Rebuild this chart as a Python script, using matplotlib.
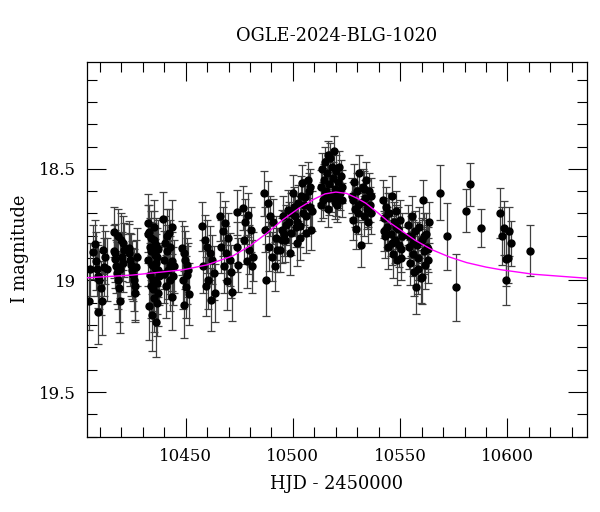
import matplotlib
matplotlib.use("Agg")
import matplotlib.pyplot as plt
import numpy as np
from matplotlib.ticker import MultipleLocator, FuncFormatter

# OGLE photometry, HJD - 2450000, I mag, error (one line per night group)
hjd = [
    10404.8, 10405.6,
    10406.8, 10407.5, 10408.0, 10408.6, 10409.2, 10409.7, 10410.3, 10410.8, 10409.0, 10411.5, 10412.0, 10412.6, 10413.2,
    10416.4, 10416.8, 10417.2, 10417.7, 10418.1, 10418.6, 10419.0, 10419.4, 10419.9, 10420.3, 10420.7, 10421.0, 10421.4, 10417.0,
    10423.4, 10423.8, 10424.2, 10424.6, 10425.0, 10425.4, 10425.8, 10426.2, 10426.6, 10427.0, 10427.3,
    10432.3, 10432.5, 10432.8, 10433.0, 10433.3, 10433.5, 10433.7, 10434.0, 10434.2, 10434.4, 10434.7, 10434.9,
    10435.1, 10435.4, 10435.6, 10435.8, 10436.1, 10436.3, 10436.5, 10436.8, 10437.0, 10437.2, 10437.4,
    10439.4, 10439.8, 10440.3, 10440.7, 10441.1, 10441.6, 10442.0, 10442.5, 10442.9, 10443.4, 10443.8, 10444.3, 10444.7,
    10448.3, 10448.6, 10449.0, 10449.3, 10449.7, 10450.0, 10450.4, 10450.7, 10451.1, 10451.4,
    10457.6, 10458.2, 10458.8, 10459.4, 10460.0, 10460.6, 10461.2, 10461.9, 10462.5, 10463.2, 10463.9,
    10466.0, 10466.6, 10467.2, 10467.7, 10468.3, 10468.8, 10469.4, 10469.9, 10470.5, 10471.0, 10471.5,
    10473.9, 10474.1, 10474.3,
    10476.5, 10477.1, 10477.8, 10478.4, 10479.0, 10479.7, 10480.3, 10481.0, 10481.6,
    10486.3, 10486.9, 10487.6, 10488.2, 10488.9, 10489.5, 10490.2, 10490.8, 10491.5, 10492.1, 10492.8,
    10494.0, 10494.8, 10495.5, 10496.0, 10496.3, 10497.0, 10497.8, 10498.6, 10499.0, 10499.3, 10500.1, 10500.9, 10501.7,
    10502.0, 10502.4, 10503.2, 10503.5, 10504.0, 10504.7, 10505.0, 10505.5, 10506.3, 10507.1, 10507.5, 10507.8, 10508.3,
    10513.0, 10513.5, 10514.0, 10514.5, 10515.0, 10515.5, 10516.0, 10516.2, 10516.5, 10517.0, 10517.5, 10518.0,
    10518.5, 10519.0, 10519.5, 10520.0, 10520.3, 10520.5, 10521.0, 10521.5, 10522.0, 10522.5, 10523.0,
    10527.5, 10528.0, 10528.5, 10529.0, 10529.5, 10530.0, 10530.5, 10531.0, 10531.6, 10532.0,
    10532.5, 10533.0, 10533.5, 10534.0, 10534.5, 10535.0, 10535.5, 10536.0, 10536.5,
    10542.0, 10542.5, 10543.0, 10543.5, 10544.0, 10544.5, 10545.0, 10545.5, 10546.0, 10546.5,
    10547.0, 10547.5, 10548.0, 10548.5, 10549.0, 10549.5, 10550.0, 10550.5, 10551.0,
    10553.6, 10554.0, 10554.5, 10555.0, 10555.5, 10556.0, 10556.5, 10557.0, 10557.5, 10558.0, 10558.5,
    10559.0, 10559.5, 10560.0, 10560.3, 10560.6, 10561.0, 10561.5, 10562.0, 10562.5, 10563.0, 10563.5,
    10568.7, 10571.8, 10575.9, 10580.9, 10582.7, 10587.8, 10596.7, 10597.6, 10598.5, 10599.2, 10599.5,
    10600.2, 10600.7, 10601.8, 10610.6,
    # extra points in the crowded nights
    10432.6, 10433.9, 10434.6, 10435.3, 10436.0, 10436.7, 10437.3,
    10440.0, 10441.3, 10442.7, 10443.6, 10418.3, 10419.6,
    10495.0, 10498.0, 10500.5, 10501.3, 10503.8, 10506.0, 10508.0, 10509.0,
    10513.2, 10514.8, 10516.8, 10518.2, 10519.8, 10521.2, 10522.8,
    10528.2, 10530.2, 10533.2, 10535.2, 10536.2,
    10542.3, 10544.2, 10546.2, 10548.2, 10550.2,
    10554.2, 10556.2, 10558.2, 10561.2, 10563.2,
]
mag = [
    19.094, 18.950,
    18.873, 18.837, 18.912, 18.949, 18.982, 18.997, 19.034, 19.094, 19.143, 18.863, 18.940, 18.897, 18.950,
    18.783, 18.870, 18.903, 18.937, 18.967, 18.997, 19.034, 19.094, 18.818, 18.893, 18.922, 18.833, 18.863, 18.877,
    18.855, 18.877, 18.907, 18.930, 18.952, 18.974, 18.997, 19.027, 19.056, 18.940, 18.893,
    18.743, 18.907, 19.116, 18.781, 18.974, 18.848, 19.027, 18.810, 18.930, 19.154, 18.863, 18.997,
    18.818, 19.079, 18.885, 18.945, 19.184, 18.840, 19.012, 18.893, 18.952, 19.056, 18.982,
    18.725, 18.907, 18.833, 19.027, 18.870, 18.952, 18.788, 18.997, 18.848, 19.072, 18.915, 18.982, 18.937,
    18.855, 19.000, 18.877, 19.109, 18.907, 19.030, 18.930, 18.974, 18.952, 19.060,
    18.758, 18.937, 18.818, 19.027, 18.848, 18.997, 18.877, 19.086, 18.907, 18.967, 19.056,
    18.713, 18.848, 18.780, 18.937, 18.743, 18.878, 19.004, 18.810, 18.907, 18.960, 19.050,
    18.695, 18.850, 18.930,
    18.676, 18.818, 18.736, 18.915, 18.706, 18.863, 18.773, 18.937, 18.893,
    18.609, 18.773, 18.997, 18.654, 18.848, 18.713, 18.893, 18.736, 18.937, 18.810, 18.863,
    18.863, 18.773, 18.713, 18.790, 18.818, 18.751, 18.684, 18.877, 18.700, 18.788, 18.609, 18.713, 18.833,
    18.740, 18.654, 18.758, 18.810, 18.564, 18.698, 18.660, 18.624, 18.788, 18.549, 18.600, 18.669, 18.773,
    18.58, 18.50, 18.64, 18.55, 18.47, 18.60, 18.52, 18.44, 18.68, 18.57, 18.45, 18.62,
    18.54, 18.42, 18.59, 18.51, 18.63, 18.66, 18.56, 18.49, 18.61, 18.53, 18.58,
    18.62, 18.73, 18.56, 18.68, 18.77, 18.60, 18.70, 18.52, 18.84, 18.65,
    18.58, 18.71, 18.63, 18.55, 18.68, 18.74, 18.60, 18.66, 18.70,
    18.64, 18.72, 18.80, 18.67, 18.76, 18.85, 18.70, 18.79, 18.62, 18.88,
    18.74, 18.82, 18.69, 18.91, 18.77, 18.84, 18.73, 18.86, 18.80,
    18.75, 18.85, 18.92, 18.80, 18.71, 18.88, 18.96, 18.78, 19.03, 18.84, 18.90,
    18.76, 18.99, 18.82, 18.985, 18.64, 18.87, 18.93, 18.79, 18.85, 18.91, 18.74,
    18.606, 18.803, 19.031, 18.687, 18.570, 18.767, 18.698, 18.800, 18.764, 18.904, 18.997,
    18.900, 18.780, 18.833, 18.866,
    18.79, 18.87, 19.04, 18.76, 18.92, 19.10, 18.86,
    18.97, 18.80, 18.93, 18.76, 18.80, 18.95,
    18.82, 18.74, 18.67, 18.76, 18.62, 18.71, 18.58, 18.69,
    18.66, 18.61, 18.63, 18.49, 18.65, 18.60, 18.64,
    18.64, 18.66, 18.59, 18.67, 18.62,
    18.78, 18.70, 18.83, 18.76, 18.90,
    18.80, 18.83, 18.95, 18.80, 18.86,
]
err = [
    0.13, 0.12,
    0.12, 0.11, 0.13, 0.12, 0.14, 0.13, 0.12, 0.15, 0.14, 0.11, 0.13, 0.12, 0.14,
    0.11, 0.12, 0.13, 0.12, 0.14, 0.13, 0.15, 0.14, 0.12, 0.11, 0.13, 0.12, 0.12, 0.13,
    0.12, 0.13, 0.12, 0.14, 0.13, 0.12, 0.14, 0.15, 0.13, 0.12, 0.13,
    0.13, 0.12, 0.15, 0.12, 0.14, 0.13, 0.14, 0.12, 0.13, 0.16, 0.12, 0.14,
    0.13, 0.15, 0.12, 0.13, 0.16, 0.12, 0.14, 0.13, 0.12, 0.15, 0.13,
    0.12, 0.13, 0.12, 0.14, 0.12, 0.13, 0.11, 0.14, 0.12, 0.15, 0.13, 0.13, 0.12,
    0.12, 0.13, 0.12, 0.15, 0.13, 0.14, 0.12, 0.13, 0.12, 0.14,
    0.11, 0.12, 0.11, 0.13, 0.12, 0.13, 0.12, 0.14, 0.11, 0.12, 0.13,
    0.11, 0.12, 0.11, 0.12, 0.10, 0.12, 0.13, 0.11, 0.12, 0.12, 0.13,
    0.10, 0.11, 0.12,
    0.10, 0.11, 0.10, 0.12, 0.10, 0.11, 0.10, 0.12, 0.11,
    0.10, 0.10, 0.16, 0.10, 0.11, 0.09, 0.11, 0.10, 0.11, 0.10, 0.10,
    0.10, 0.09, 0.09, 0.10, 0.10, 0.09, 0.09, 0.10, 0.09, 0.10, 0.08, 0.09, 0.10,
    0.09, 0.08, 0.09, 0.10, 0.08, 0.09, 0.09, 0.08, 0.09, 0.08, 0.08, 0.09, 0.09,
    0.075, 0.07, 0.08, 0.07, 0.07, 0.075, 0.07, 0.065, 0.08, 0.075, 0.065, 0.075,
    0.07, 0.065, 0.075, 0.07, 0.08, 0.08, 0.075, 0.07, 0.075, 0.07, 0.075,
    0.08, 0.09, 0.08, 0.08, 0.09, 0.08, 0.09, 0.08, 0.10, 0.08,
    0.08, 0.09, 0.08, 0.08, 0.09, 0.09, 0.08, 0.08, 0.09,
    0.09, 0.09, 0.10, 0.09, 0.09, 0.10, 0.09, 0.10, 0.09, 0.11,
    0.09, 0.10, 0.09, 0.11, 0.10, 0.10, 0.09, 0.10, 0.10,
    0.09, 0.10, 0.10, 0.09, 0.09, 0.10, 0.11, 0.09, 0.12, 0.10, 0.10,
    0.09, 0.11, 0.10, 0.12, 0.09, 0.10, 0.11, 0.09, 0.10, 0.10, 0.09,
    0.123, 0.148, 0.151, 0.098, 0.098, 0.085, 0.113, 0.13, 0.12, 0.12, 0.113,
    0.11, 0.11, 0.10, 0.113,
    0.13, 0.13, 0.14, 0.12, 0.13, 0.15, 0.13,
    0.13, 0.12, 0.13, 0.12, 0.12, 0.13,
    0.10, 0.09, 0.09, 0.09, 0.09, 0.09, 0.08, 0.09,
    0.075, 0.075, 0.075, 0.07, 0.075, 0.075, 0.075,
    0.08, 0.08, 0.08, 0.09, 0.08,
    0.09, 0.09, 0.10, 0.10, 0.10,
    0.10, 0.10, 0.11, 0.10, 0.10,
]

# microlensing model curve, sampled from the plot
model_t = [10404, 10425, 10449, 10460, 10472, 10480, 10488, 10495, 10503, 10510, 10515, 10520, 10525,
           10530, 10534, 10540, 10545, 10550, 10557, 10565, 10573, 10581, 10590, 10597, 10612, 10637]
model_m = [18.988, 18.976, 18.952, 18.93, 18.89, 18.845, 18.787, 18.73, 18.675, 18.635, 18.612, 18.604, 18.61,
           18.632, 18.654, 18.70, 18.74, 18.773, 18.82, 18.863, 18.895, 18.92, 18.94, 18.952, 18.972, 18.99]

print(len(hjd), len(mag), len(err))

plt.rcParams['font.family'] = 'DejaVu Serif'
fig = plt.figure(figsize=(6.0, 5.12), dpi=100)
ax = fig.add_axes([0.145, 0.147, 0.833, 0.7325])

ax.errorbar(hjd, mag, yerr=err, fmt='o', color='black', ms=5, ecolor='0.25',
            elinewidth=0.9, capsize=2.8, capthick=0.9, zorder=2)
ax.plot(model_t, model_m, color='magenta', lw=1.0, zorder=3)

ax.set_xlim(10404, 10637)
ax.set_ylim(19.7, 18.02)

ax.xaxis.set_major_locator(MultipleLocator(50))
ax.xaxis.set_minor_locator(MultipleLocator(10))
ax.yaxis.set_major_locator(MultipleLocator(0.5))
ax.yaxis.set_minor_locator(MultipleLocator(0.1))
ax.yaxis.set_major_formatter(FuncFormatter(lambda v, p: '%g' % v))

ax.tick_params(which='both', direction='in', top=True, right=True, width=0.8, labelsize=12)
ax.tick_params(which='major', length=13.5, pad=8)
ax.tick_params(which='minor', length=7)
for s in ax.spines.values():
    s.set_linewidth(0.9)

ax.set_title('OGLE-2024-BLG-1020', fontsize=12.8, pad=15)
ax.set_xlabel('HJD - 2450000', fontsize=12.8, labelpad=7)
ax.set_ylabel('I magnitude', fontsize=12.8, labelpad=7)

fig.savefig('out.png', dpi=100)
